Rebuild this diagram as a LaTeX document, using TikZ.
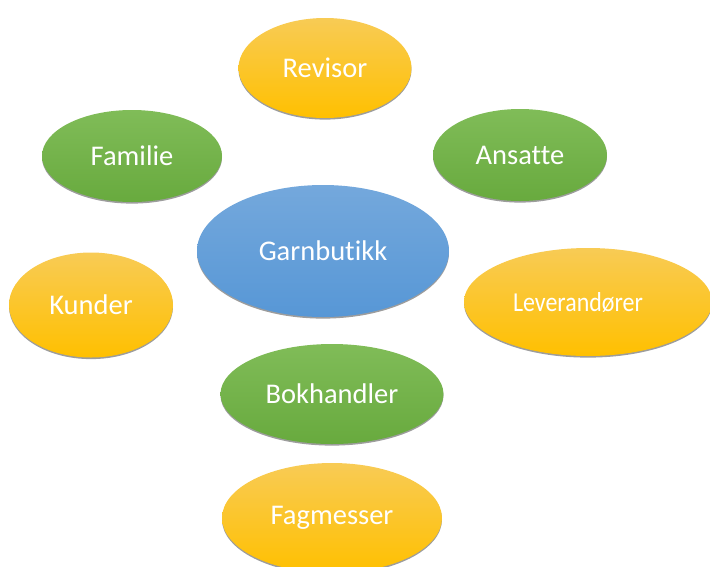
\documentclass[tikz,border=0pt]{standalone}
\usepackage{fontspec}
\setmainfont{Carlito}[Ligatures={NoCommon}]
\usetikzlibrary{shapes.geometric, shadows}

\definecolor{goldtop}{HTML}{F8CB55}
\definecolor{goldbot}{HTML}{FFC000}
\definecolor{greentop}{HTML}{80BC58}
\definecolor{greenbot}{HTML}{68AA3E}
\definecolor{bluetop}{HTML}{74A8DC}
\definecolor{bluebot}{HTML}{5797D6}

\begin{document}
\begin{tikzpicture}[x=1pt, y=-1pt,
    oval/.style={ellipse, inner sep=0pt, text=white,
      font=\fontsize{28.5}{32}\selectfont,
      drop shadow={shadow xshift=0pt, shadow yshift=-1.6pt,
        opacity=0.7, fill=black!55}},
    gold/.style={oval, top color=goldtop, bottom color=goldbot},
    green/.style={oval, top color=greentop, bottom color=greenbot},
    blue/.style={oval, top color=bluetop, bottom color=bluebot}]
  \useasboundingbox (0,0) rectangle (710,566);
  % Centre
  \node[blue, minimum width=252pt, minimum height=132pt] (garn) at (323,251) {Garnbutikk};
  % Top
  \node[gold, minimum width=173pt, minimum height=100pt] (revisor) at (325,68) {Revisor};
  % Second row
  \node[green, minimum width=180pt, minimum height=92pt] (familie) at (132,156) {Familie};
  \node[green, minimum width=174pt, minimum height=92pt] (ansatte) at (520,155) {Ansatte};
  % Third row
  \node[gold, minimum width=164pt, minimum height=105pt] (kunder) at (91,305) {Kunder};
  \node[gold, minimum width=248pt, minimum height=108pt] (lever) at (588,302)
    {\scalebox{0.84}[0.96]{Leverandører}\kern20pt\relax};
  % Bottom
  \node[green, minimum width=223pt, minimum height=100pt] (bok) at (332,394) {Bokhandler};
  \node[gold, minimum width=220pt, minimum height=110pt] (fag) at (332,518) {Fagmesser};
\end{tikzpicture}
\end{document}
